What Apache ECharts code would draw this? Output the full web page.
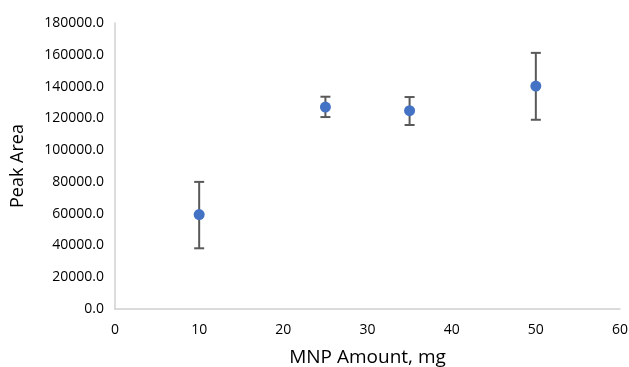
<!DOCTYPE html>
<html>
<head>
<meta charset="utf-8">
<script src="https://cdn.jsdelivr.net/npm/echarts@6/dist/echarts.min.js"></script>
<style>
  html, body { margin: 0; padding: 0; background: #fff; }
  #chart { width: 629px; height: 367px; }
</style>
</head>
<body>
<div id="chart"></div>
<script>
// MNP amount (mg) vs peak area, with error bars
const mnpAmount = [10, 25, 35, 50];
const peakArea = [59400, 127100, 124800, 140300];
const errLow = [38200, 120800, 115800, 119100];
const errHigh = [80000, 133600, 133400, 161200];

const xTicks = { min: 0, max: 60, interval: 10 };
const yTicks = { min: 0, max: 180000, interval: 20000 };

const font = "'Open Sans', sans-serif";
const chart = echarts.init(document.getElementById('chart'));

const errData = mnpAmount.map((x, i) => [x, errLow[i], errHigh[i]]);
const pointData = mnpAmount.map((x, i) => [x, peakArea[i]]);

const option = {
  animation: false,
  grid: { left: 115, right: 9, top: 23, bottom: 58, containLabel: false, outerBoundsMode: 'none' },
  xAxis: {
    type: 'value',
    min: xTicks.min, max: xTicks.max, interval: xTicks.interval,
    name: 'MNP Amount, mg',
    nameLocation: 'middle',
    nameGap: 39,
    nameTextStyle: { fontFamily: font, fontSize: 19, color: '#000' },
    axisLine: { lineStyle: { color: '#d0d0d0', width: 1.5 } },
    axisTick: { show: false },
    splitLine: { show: false },
    axisLabel: { fontFamily: font, fontSize: 14, color: '#000', margin: 14 }
  },
  yAxis: {
    type: 'value',
    min: yTicks.min, max: yTicks.max, interval: yTicks.interval,
    name: 'Peak Area',
    nameLocation: 'middle',
    nameGap: 88,
    nameTextStyle: { fontFamily: font, fontSize: 18, color: '#000' },
    axisLine: { show: true, lineStyle: { color: '#d0d0d0', width: 1.5 } },
    axisTick: { show: false },
    splitLine: { show: false },
    axisLabel: {
      fontFamily: font, fontSize: 14, color: '#000', margin: 11,
      formatter: v => v.toFixed(1)
    }
  },
  series: [
    {
      type: 'custom',
      data: errData,
      z: 1,
      renderItem: function (params, api) {
        const x = api.value(0);
        const lo = api.coord([x, api.value(1)]);
        const hi = api.coord([x, api.value(2)]);
        const cap = 5;
        const style = { stroke: '#595959', lineWidth: 2 };
        return {
          type: 'group',
          children: [
            { type: 'line', shape: { x1: lo[0], y1: lo[1], x2: hi[0], y2: hi[1] }, style: style },
            { type: 'line', shape: { x1: lo[0] - cap, y1: lo[1], x2: lo[0] + cap, y2: lo[1] }, style: style },
            { type: 'line', shape: { x1: hi[0] - cap, y1: hi[1], x2: hi[0] + cap, y2: hi[1] }, style: style }
          ]
        };
      }
    },
    {
      type: 'scatter',
      data: pointData,
      symbolSize: 11,
      z: 2,
      itemStyle: { color: '#4472C4', opacity: 1 }
    }
  ]
};
chart.setOption(option);
</script>
</body>
</html>
